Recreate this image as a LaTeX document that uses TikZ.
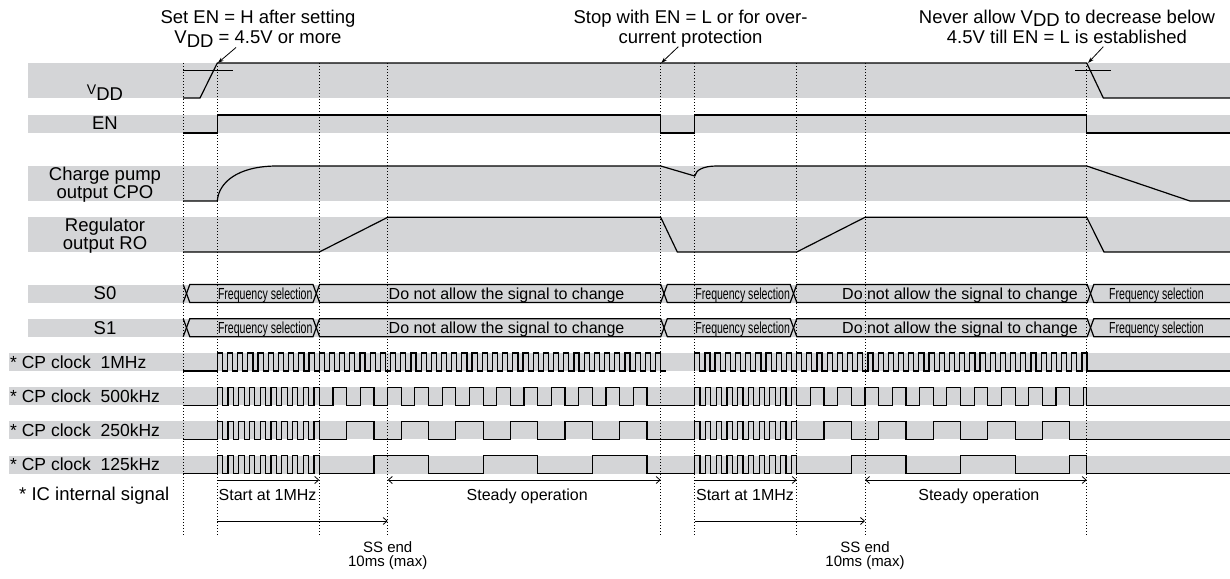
\documentclass[tikz,border=0pt]{standalone}
\usepackage{fontspec}
\setmainfont{Liberation Sans}
\usepackage{graphicx}
\usetikzlibrary{arrows.meta}
\definecolor{bandgray}{RGB}{212,213,215}

\begin{document}
\begin{tikzpicture}[x=1pt,y=-1pt,
	>={Straight Barb[length=4pt,width=7pt]},
	band/.style={fill=bandgray},
	wave/.style={line width=1.2pt},
	guide/.style={line width=0.9pt,dash pattern=on 0.9pt off 2.1pt},
	level/.style={line width=0.9pt},
	pointer/.style={line width=0.8pt,-{Stealth[length=6pt,width=4pt]}},
	span/.style={line width=0.8pt},
	rowlabel/.style={font=\fontsize{18.5}{18}\selectfont,align=center,inner sep=0pt},
	clocklabel/.style={font=\fontsize{17.5}{18}\selectfont,inner sep=0pt,anchor=base west},
	notetext/.style={font=\fontsize{18.5}{20}\selectfont,align=center,inner sep=0pt},
	bustext/.style={font=\fontsize{16}{16}\selectfont,inner sep=0pt,anchor=base west},
	lowtext/.style={font=\fontsize{16}{14}\selectfont,align=center,inner sep=0pt},
	sstext/.style={font=\fontsize{15}{14}\selectfont,align=center,inner sep=0pt}]

	\useasboundingbox (0,0) rectangle (1230,578);

	% Grey bands behind the signals
	\fill[band] (28,63) rectangle (1230,98);
	\fill[band] (28,115) rectangle (1230,133);
	\fill[band] (28,166) rectangle (1230,201);
	\fill[band] (28,217.3) rectangle (1230,252);
	\foreach \y/\x in {284.5/28,318.7/28,352.9/9,387.1/9,421.3/9,455.5/9}
		\fill[band] (\x,\y) rectangle (1230,\y+18);

	% Dotted time marks
	\foreach \t in {183,217.3,319.3,387.7,660.7,694.7,796.7,865,1086.7}
		\draw[guide] (\t,63) -- (\t,536);

	% Row names
	\node[rowlabel,anchor=base] (lblvdd) at (105,100) {\raisebox{6pt}{\fontsize{14}{14}\selectfont V}DD};
	\node[rowlabel,anchor=base] (lblen) at (105,129.5) {EN};
	\node[rowlabel] (lblcpo) at (105,184.8) {Charge pump\\output CPO};
	\node[rowlabel] (lblro) at (105,236) {Regulator\\output RO};
	\node[rowlabel,anchor=base] (lbls0) at (105,299.8) {S0};
	\node[rowlabel,anchor=base] (lbls1) at (105,334) {S1};
	\node[clocklabel] (lblck1) at (10,368.1) {* CP clock~~1MHz};
	\node[clocklabel] (lblck2) at (10,402.3) {* CP clock~~500kHz};
	\node[clocklabel] (lblck3) at (10,436.5) {* CP clock~~250kHz};
	\node[clocklabel] (lblck4) at (10,470.7) {* CP clock~~125kHz};
	\node[rowlabel,anchor=base west] (lblic) at (19,500) {* IC internal signal};

	% VDD with the 4.5V level
	\draw[wave] (183,98) -- (200,98) -- (217.3,63) -- (1086.7,63) -- (1103.3,98) -- (1230,98);
	\draw[level] (183,70.7) -- (233,70.7);
	\draw[level] (1075,70.7) -- (1110.7,70.7);

	% EN
	\draw[wave] (183,133) -- (217.3,133) -- (217.3,115) -- (660.7,115) -- (660.7,133)
		-- (694.7,133) -- (694.7,115) -- (1086.7,115) -- (1086.7,133) -- (1230,133);

	% Charge pump output CPO
	\draw[wave] (183,201) -- (217.3,201) .. controls (218.5,183) and (237,166) .. (277,166)
		-- (660.7,166) -- (694.7,176) .. controls (696,170) and (703,166) .. (717,166)
		-- (1086.7,166) -- (1190,201) -- (1230,201);

	% Regulator output RO
	\draw[wave] (183,252) -- (319.3,252) -- (387.7,217.3) -- (660.7,217.3) -- (677.3,252)
		-- (796.7,252) -- (865,217.3) -- (1086.7,217.3) -- (1104,252) -- (1230,252);

	% S0 and S1
	\foreach \y/\r in {284.5/s0,318.7/s1} {
		\draw[wave] (183.2,\y) -- (189.8,\y+18) -- (313,\y+18) -- (319.6,\y) -- (660.7,\y)
			-- (667.3,\y+18) -- (790.2,\y+18) -- (796.8,\y) -- (1087.2,\y) -- (1093.8,\y+18) -- (1230,\y+18);
		\draw[wave] (183.2,\y+18) -- (189.8,\y) -- (313,\y) -- (319.6,\y+18) -- (660.7,\y+18)
			-- (667.3,\y) -- (790.2,\y) -- (796.8,\y+18) -- (1087.2,\y+18) -- (1093.8,\y) -- (1230,\y);
		\node[bustext] (\r sela) at (217.8,\y+14.6) {\scalebox{0.66}[1]{Frequency selection}};
		\node[bustext] (\r holda) at (388.5,\y+14.6) {Do not allow the signal to change};
		\node[bustext] (\r selb) at (695.2,\y+14.6) {\scalebox{0.66}[1]{Frequency selection}};
		\node[bustext] (\r holdb) at (842,\y+14.6) {Do not allow the signal to change};
		\node[bustext] (\r selc) at (1109,\y+14.6) {\scalebox{0.66}[1]{Frequency selection}};
	}

	% CP clock 1MHz
	\draw[wave] (183,370.9) -- (217.3,370.9)
		\foreach \k in {1,...,44} { |- ++(5.095,-18) |- ++(5.095,18) };
	\draw[wave] (694.7,370.9)
		\foreach \k in {1,...,39} { |- ++(5.095,-18) |- ++(5.095,18) } -- (1230,370.9);

	% CP clock 500kHz
	\draw[wave] (183,405.1) -- (217.3,405.1)
		\foreach \k in {1,...,10} { |- ++(5.37,-18) |- ++(5.37,18) }
		\foreach \k in {0,...,11} { -| ({319.3+(2*\k+1)*13.65},387.1) -| ({319.3+(2*\k+2)*13.65},405.1) }
		-- (694.7,405.1)
		\foreach \k in {1,...,10} { |- ++(5.37,-18) |- ++(5.37,18) }
		\foreach \k in {0,...,9} { -| ({796.7+(2*\k+1)*13.65},387.1) -| ({796.7+(2*\k+2)*13.65},405.1) }
		-| (1083.4,387.1) -| (1086.7,405.1) -- (1230,405.1);

	% CP clock 250kHz
	\draw[wave] (183,439.3) -- (217.3,439.3)
		\foreach \k in {1,...,10} { |- ++(5.37,-18) |- ++(5.37,18) }
		\foreach \k in {0,...,5} { -| ({319.3+(2*\k+1)*27.3},421.3) -| ({319.3+(2*\k+2)*27.3},439.3) }
		-- (694.7,439.3)
		\foreach \k in {1,...,10} { |- ++(5.37,-18) |- ++(5.37,18) }
		\foreach \k in {0,...,4} { -| ({796.7+(2*\k+1)*27.3},421.3) -| ({796.7+(2*\k+2)*27.3},439.3) }
		-- (1230,439.3);

	% CP clock 125kHz
	\draw[wave] (183,473.5) -- (217.3,473.5)
		\foreach \k in {1,...,10} { |- ++(5.37,-18) |- ++(5.37,18) }
		\foreach \k in {0,...,2} { -| ({319.3+(2*\k+1)*54.6},455.5) -| ({319.3+(2*\k+2)*54.6},473.5) }
		-- (694.7,473.5)
		\foreach \k in {1,...,10} { |- ++(5.37,-18) |- ++(5.37,18) }
		\foreach \k in {0,...,1} { -| ({796.7+(2*\k+1)*54.6},455.5) -| ({796.7+(2*\k+2)*54.6},473.5) }
		-| (1069.7,455.5) -| (1086.7,473.5) -- (1230,473.5);

	% IC internal signal: soft start and steady operation
	\foreach \a/\b/\c/\d/\i in {217.3/319.3/387.7/660.7/1,694.7/796.7/865/1086.7/2} {
		\coordinate (on\i) at (\a,480);
		\coordinate (fast\i) at (\b,480);
		\coordinate (steady\i) at (\c,480);
		\coordinate (off\i) at (\d,480);
		\coordinate (sson\i) at (\a,521);
		\coordinate (ssoff\i) at (\c,521);
		\draw[span,->] (on\i) -- (fast\i);
		\draw[span,<->] (steady\i) -- (off\i);
		\draw[span,->] (sson\i) -- (ssoff\i);
		\node[lowtext,anchor=base west] (start\i) at (\a+1.2,500) {Start at 1MHz};
		\node[lowtext,anchor=base] (run\i) at ({(\c+\d)/2+3},500) {Steady operation};
		\node[sstext,anchor=north] (ssend\i) at (\c,541) {SS end\\10ms (max)};
	}

	% Notes at the top
	\node[notetext,anchor=north] (noteset) at (258,10) {Set EN = H after setting\\V\raisebox{-3.5pt}{DD} = 4.5V or more};
	\node[notetext,anchor=north] (notestop) at (690.5,10) {Stop with EN = L or for over-\\current protection};
	\node[notetext,anchor=north] (notenever) at (1067,10) {Never allow V\raisebox{-3pt}{DD} to decrease below\\4.5V till EN = L is established};
	\coordinate (setfrom) at (236,47.5);
	\coordinate (setto) at (217.8,63);
	\coordinate (stopfrom) at (678.3,46.7);
	\coordinate (stopto) at (661.2,63);
	\coordinate (neverfrom) at (1103.3,46.7);
	\coordinate (neverto) at (1088,63);
	\draw[pointer] (setfrom) -- (setto);
	\draw[pointer] (stopfrom) -- (stopto);
	\draw[pointer] (neverfrom) -- (neverto);

\end{tikzpicture}
\end{document}
